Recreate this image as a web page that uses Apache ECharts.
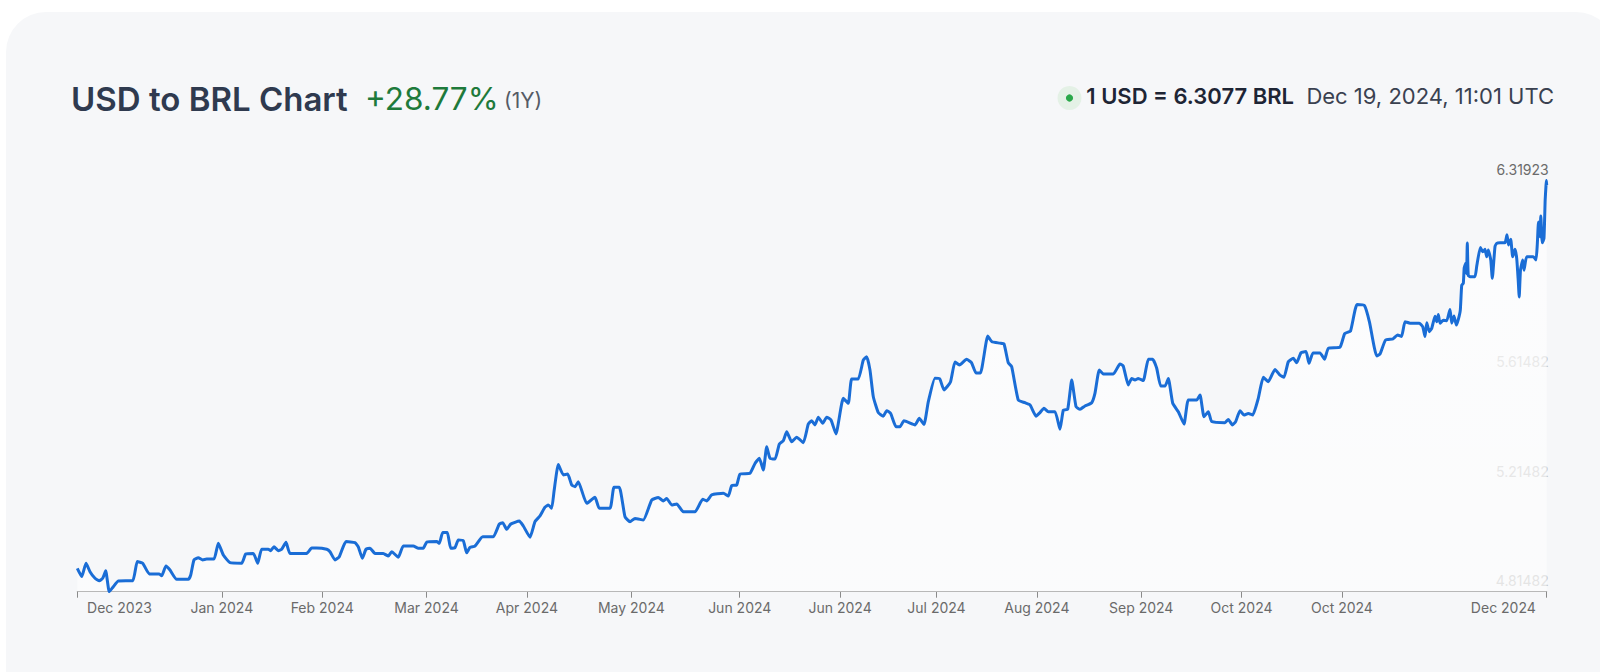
<!DOCTYPE html>
<html>
<head>
<meta charset="utf-8">
<script src="https://cdn.jsdelivr.net/npm/echarts@6/dist/echarts.min.js"></script>
<style>
html,body{margin:0;padding:0;background:#ffffff;width:1600px;height:672px;overflow:hidden;}
#card{position:absolute;left:6px;top:12px;width:1610px;height:720px;border-radius:40px;background:#f6f7f9;}
#chart{position:absolute;left:0;top:0;width:1600px;height:672px;}
</style>
</head>
<body>
<div id="card"></div>
<div id="chart"></div>
<script>
// ---- header texts ----
const titleText = 'USD to BRL Chart';
const changeText = '+28.77%';
const periodText = '(1Y)';
const rateText = '1 USD = 6.3077 BRL';
const timeText = 'Dec 19, 2024, 11:01 UTC';

// ---- data: days since 2023-12-19 and USD/BRL rate ----
const totalDays = 366;

const dayOffsets = [
0,1.1,2.17,3.16,4.41,5.48,6.33,7.07,7.97,8.97,10.21,13.8,14.94,16.29,17.93,20.42,21.02,22.09,23.09,24.76,
27.65,28.25,29.07,30.14,31.23,32.23,34.05,35.12,36.37,38.03,40.95,41.95,43.84,44.93,45.93,47.57,48.17,48.99,50.07,50.91,
51.98,52.98,57.14,58.38,59.63,62.12,62.94,64.19,65.26,66.93,69.17,69.99,70.99,71.91,72.91,74.15,76.22,77.46,78.31,79.96,
81.2,83.69,84.94,86.18,87.03,89.52,90.17,91.02,92.16,93.01,94.08,94.9,96.15,96.99,97.81,99.06,100.98,103.62,105.11,105.96,
106.96,107.95,110.09,111.09,112.76,114.0,115.25,116.49,117.32,118.16,118.74,119.81,121.06,122.15,123.15,123.97,124.79,126.88,128.95,130.02,
132.69,133.68,135.0,136.42,137.67,138.91,140.98,143.07,144.72,145.96,146.81,148.05,149.3,150.94,153.86,155.77,156.77,158.02,160.91,162.15,
163.0,164.24,165.07,167.56,168.8,169.88,170.87,171.72,172.54,173.79,174.86,175.85,176.7,177.94,179.19,180.83,182.08,182.92,183.74,184.57,
185.66,186.66,187.73,188.97,190.79,192.04,192.88,194.53,195.78,196.62,197.44,198.27,199.51,200.76,201.6,202.6,203.92,204.92,205.91,208.65,
209.72,210.89,211.96,213.63,214.8,215.87,217.49,218.61,219.73,221.52,222.72,223.84,224.96,226.78,227.82,229.82,230.82,231.89,232.73,234.38,
236.05,237.3,238.79,239.79,240.78,241.86,243.53,244.77,245.6,246.69,247.69,248.76,249.76,251.0,252.67,253.49,254.56,255.56,258.05,259.71,
260.53,261.78,262.63,263.45,264.27,265.52,266.77,267.86,268.86,269.85,270.93,271.75,272.85,274.24,275.66,276.73,278.82,279.65,280.64,281.71,
282.56,285.87,286.69,287.69,288.53,289.6,290.6,291.67,292.77,294.16,295.41,296.65,298.32,299.57,300.56,301.64,302.88,303.73,304.8,306.05,
306.79,307.79,309.53,310.65,311.6,314.51,315.68,317.13,318.75,320.62,321.86,323.66,324.48,325.85,327.72,328.84,329.84,330.71,331.96,334.27,
335.12,335.69,336.12,336.76,337.36,338.18,338.61,339.0,339.43,340.25,341.09,341.92,342.34,342.91,343.49,343.99,344.48,344.83,345.23,345.45,
345.82,346.05,346.22,346.47,347.07,348.14,348.56,349.46,350.06,350.63,351.05,351.45,352.07,352.45,353.12,353.55,354.37,355.61,356.11,356.49,
357.03,357.53,358.1,358.53,358.9,359.15,359.47,360.02,360.35,361.02,362.66,363.33,363.65,363.95,364.33,364.53,364.9,365.32,365.62,365.82,
365.92,366.0
];

const usdBrl = [
4.900,4.870,4.919,4.888,4.864,4.855,4.864,4.891,4.81482,4.833,4.854,4.855,4.925,4.919,4.880,4.880,4.873,4.909,4.894,4.860,
4.860,4.876,4.931,4.939,4.931,4.934,4.934,4.992,4.949,4.921,4.919,4.953,4.955,4.919,4.970,4.970,4.965,4.979,4.965,4.970,
4.996,4.955,4.955,4.975,4.975,4.970,4.961,4.931,4.943,4.998,4.994,4.979,4.937,4.970,4.974,4.955,4.955,4.945,4.961,4.941,
4.982,4.982,4.974,4.974,4.996,4.998,4.992,5.031,5.031,4.974,4.976,5.004,5.001,4.957,4.977,4.982,5.016,5.016,5.062,5.067,
5.043,5.062,5.073,5.055,5.014,5.071,5.092,5.124,5.132,5.120,5.181,5.280,5.242,5.245,5.205,5.199,5.217,5.138,5.160,5.120,
5.120,5.197,5.197,5.089,5.071,5.083,5.077,5.150,5.159,5.147,5.156,5.132,5.136,5.107,5.107,5.153,5.147,5.169,5.175,5.165,
5.203,5.205,5.245,5.248,5.284,5.303,5.260,5.345,5.303,5.300,5.355,5.367,5.400,5.363,5.380,5.360,5.428,5.440,5.425,5.453,
5.431,5.453,5.443,5.392,5.522,5.504,5.593,5.593,5.662,5.674,5.626,5.528,5.470,5.457,5.477,5.467,5.418,5.418,5.440,5.425,
5.449,5.426,5.509,5.596,5.594,5.553,5.582,5.655,5.644,5.665,5.653,5.615,5.615,5.750,5.729,5.724,5.721,5.652,5.638,5.516,
5.506,5.498,5.457,5.470,5.486,5.473,5.473,5.409,5.479,5.482,5.589,5.492,5.482,5.494,5.506,5.541,5.626,5.611,5.611,5.648,
5.640,5.571,5.595,5.589,5.595,5.587,5.665,5.665,5.632,5.567,5.567,5.595,5.504,5.473,5.428,5.516,5.516,5.534,5.455,5.473,
5.437,5.433,5.445,5.425,5.437,5.477,5.461,5.467,5.461,5.522,5.599,5.583,5.628,5.607,5.599,5.656,5.669,5.652,5.689,5.693,
5.650,5.688,5.688,5.665,5.705,5.709,5.759,5.768,5.865,5.861,5.801,5.677,5.684,5.735,5.740,5.754,5.748,5.802,5.797,5.797,
5.784,5.748,5.799,5.766,5.778,5.822,5.802,5.829,5.797,5.808,5.806,5.847,5.797,5.823,5.790,5.811,5.845,5.935,5.943,5.999,
6.016,5.979,6.090,5.971,5.967,5.967,6.004,6.074,6.058,6.067,6.040,6.065,6.028,5.961,6.077,6.089,6.091,6.091,6.120,6.083,
6.104,6.040,6.067,6.034,5.955,5.893,5.991,6.028,5.991,6.040,6.040,6.028,6.083,6.167,6.113,6.189,6.091,6.107,6.248,6.299,
6.31923,6.302
];

// ---- axis ticks / labels (in days since 2023-12-19) ----
const xTickDays = [0, 36, 61, 87, 112, 138, 165, 190, 214, 239, 265, 290, 315, 366];
const xLabelDays = [10.5, 36, 61, 87, 112, 138, 165, 190, 214, 239, 265, 290, 315, 355.2];
const xTickLabels = ['Dec 2023','Jan 2024','Feb 2024','Mar 2024','Apr 2024','May 2024','Jun 2024','Jun 2024','Jul 2024','Aug 2024','Sep 2024','Oct 2024','Oct 2024','Dec 2024'];
const yMin = 4.81482;
const yMax = 6.31923;
const yLabelValues = [4.81482, 5.21482, 5.61482, 6.31923];

const seriesData = dayOffsets.map((d, i) => [d, usdBrl[i]]);

const chart = echarts.init(document.getElementById('chart'), null, {renderer: 'svg'});
const FONT = 'Inter, "Noto Sans", sans-serif';

chart.setOption({
  animation: false,
  backgroundColor: 'transparent',
  grid: {left: 77.3, right: 53.3, top: 180.4, bottom: 80.3, containLabel: false, outerBoundsMode: 'none'},
  xAxis: {
    type: 'value',
    min: 0,
    max: totalDays,
    axisLine: {show: true, lineStyle: {color: '#8a8a8a', width: 1}},
    axisTick: {show: true, length: 6, customValues: xTickDays, lineStyle: {color: '#8a8a8a', width: 1}},
    splitLine: {show: false},
    axisLabel: {
      customValues: xLabelDays,
      color: '#6a6a6a',
      fontFamily: FONT,
      fontSize: 14,
      margin: 9,
      hideOverlap: false,
      showMinLabel: true,
      showMaxLabel: true,
      formatter: function (value) {
        let best = 0, bd = Infinity;
        xLabelDays.forEach((t, i) => { const dd = Math.abs(t - value); if (dd < bd) { bd = dd; best = i; } });
        return xTickLabels[best];
      }
    }
  },
  yAxis: {
    type: 'value',
    position: 'right',
    min: yMin,
    max: yMax,
    axisLine: {show: false},
    axisTick: {show: false},
    splitLine: {show: false},
    axisLabel: {
      inside: true,
      customValues: yLabelValues,
      margin: -2,
      fontFamily: FONT,
      fontSize: 14,
      verticalAlign: 'bottom',
      lineHeight: 14,
      padding: [0, 0, 4, 0],
      showMinLabel: true,
      showMaxLabel: true,
      formatter: v => v.toFixed(5),
      color: function (v) { return Math.abs(v - yMax) < 1e-6 ? '#6b6b6b' : '#c6c6c6'; }
    }
  },
  series: [{
    type: 'line',
    data: seriesData,
    showSymbol: false,
    smooth: 0.15,
    silent: true,
    lineStyle: {color: '#1a6dd6', width: 3},
    areaStyle: {
      color: new echarts.graphic.LinearGradient(0, 0, 0, 1, [
        {offset: 0, color: 'rgba(255,255,255,0.98)'},
        {offset: 1, color: 'rgba(255,255,255,0.75)'}
      ])
    }
  }],
  graphic: [
    {type: 'text', left: 71, top: 82, style: {text: titleText, font: '600 33px ' + FONT, fill: '#2f3a4f'}},
    {type: 'text', left: 365, top: 82, style: {text: changeText, font: '400 31.5px ' + FONT, fill: '#1e7a3b'}},
    {type: 'text', left: 504, top: 90, style: {text: periodText, font: '400 21px ' + FONT, fill: '#555b66'}},
    {type: 'circle', shape: {cx: 1069.5, cy: 98, r: 12}, style: {fill: '#e4f1e6'}},
    {type: 'circle', shape: {cx: 1069.5, cy: 98, r: 3.6}, style: {fill: '#2aa84a'}},
    {type: 'text', right: 306, top: 85, style: {text: rateText, font: '600 22px ' + FONT, fill: '#1e2535'}},
    {type: 'text', right: 46, top: 85, style: {text: timeText, font: '400 22px ' + FONT, fill: '#3a4150'}}
  ]
});
</script>
</body>
</html>
